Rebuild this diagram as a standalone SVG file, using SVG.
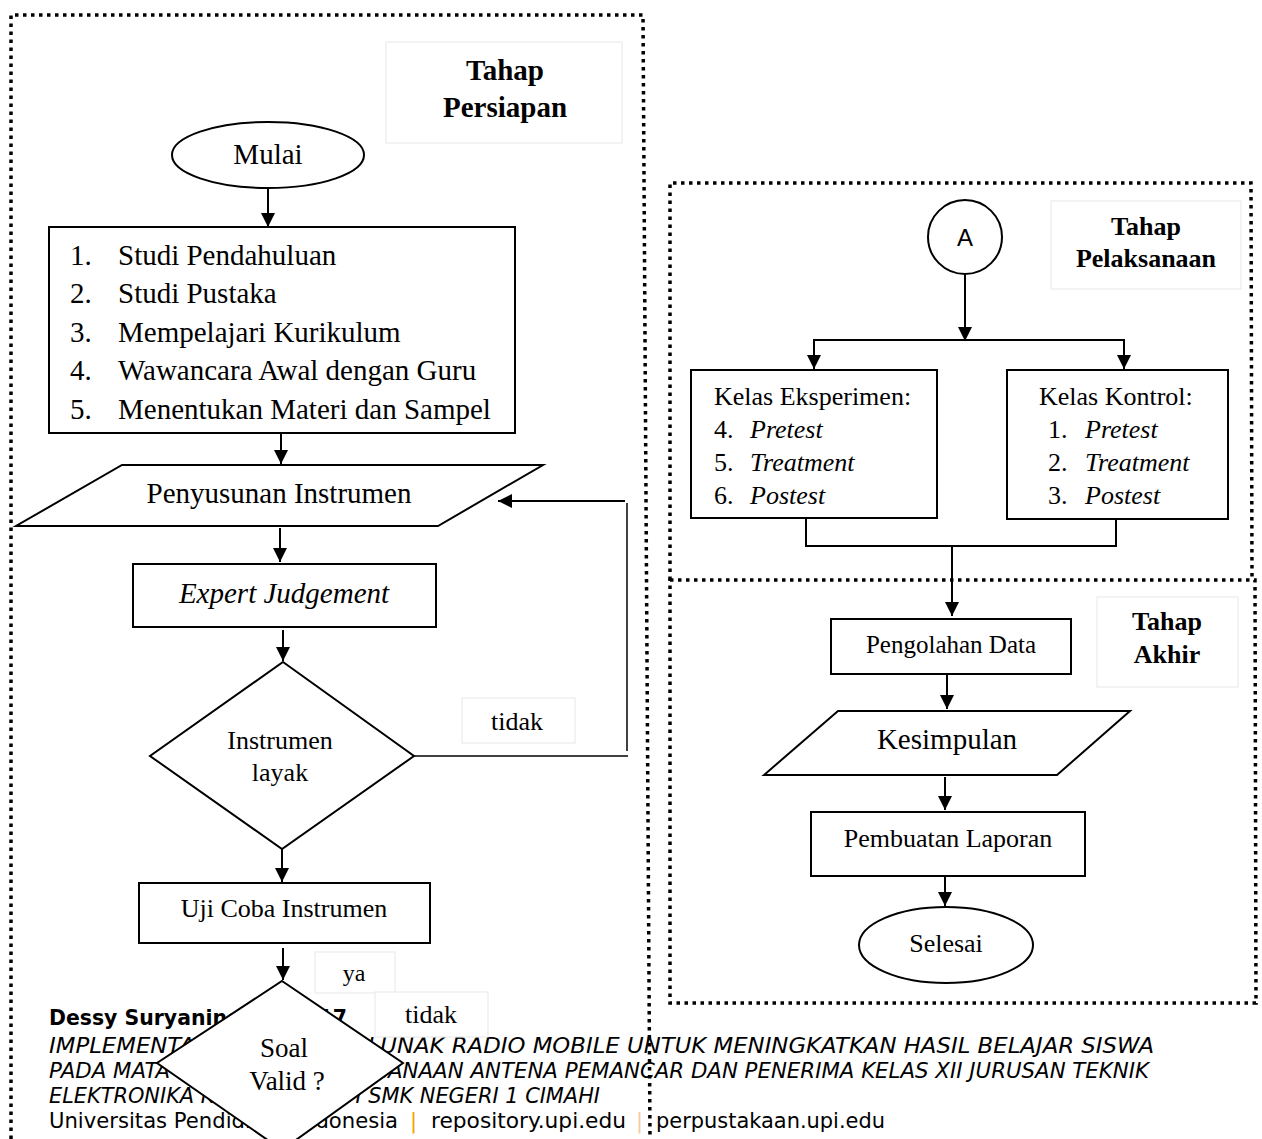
<svg xmlns="http://www.w3.org/2000/svg" width="1262" height="1139" viewBox="0 0 1262 1139">
<defs>
<marker id="ah" markerUnits="userSpaceOnUse" markerWidth="14" markerHeight="16" refX="14" refY="7" orient="auto">
<path d="M0,0 L14,7 L0,14 z" fill="#000"/>
</marker>
<style>
.dot{fill:none;stroke:#000;stroke-width:3.5;stroke-dasharray:3.5 4.5}
.box{fill:#fff;stroke:#000;stroke-width:2}
.lbl{fill:#fff;stroke:#ececec;stroke-width:1.2}
.t{font-family:"Liberation Serif","Times New Roman",serif;fill:#000}
.b{font-weight:bold}
.i{font-style:italic}
.c{text-anchor:middle}
.ln{fill:none;stroke:#000;stroke-width:2}
.thin{fill:none;stroke:#000;stroke-width:1.5}
.ft{font-family:"DejaVu Sans","Liberation Sans",sans-serif;font-size:21px;fill:#000}
</style>
</defs>
<rect width="1262" height="1139" fill="#fff"/>

<g id="panels">
<path class="dot" d="M11,1139 L11,15 L643,15 L650,1139"/>
<path class="dot" d="M670,580 L670,183 L1251,183 L1252,580"/>
<path class="dot" d="M670,580 L1255,580 L1256,1003 L670,1003 Z"/>
</g>

<g id="label-persiapan">
<rect class="lbl" x="386" y="42" width="236" height="101"/>
<text class="t b c" x="505" y="80" font-size="29">Tahap</text>
<text class="t b c" x="505" y="117" font-size="29">Persiapan</text>
</g>
<g id="label-pelaksanaan">
<rect class="lbl" x="1051" y="201" width="190" height="88"/>
<text class="t b c" x="1146" y="235" font-size="26">Tahap</text>
<text class="t b c" x="1146" y="267" font-size="26">Pelaksanaan</text>
</g>
<g id="label-akhir">
<rect class="lbl" x="1097" y="597" width="141" height="90"/>
<text class="t b c" x="1167" y="630" font-size="26">Tahap</text>
<text class="t b c" x="1167" y="663" font-size="26">Akhir</text>
</g>

<g id="connectors">
<line class="ln" x1="268" y1="188" x2="268" y2="227" marker-end="url(#ah)"/>
<line class="ln" x1="281" y1="434" x2="281" y2="464" marker-end="url(#ah)"/>
<line class="ln" x1="280" y1="528" x2="280" y2="562" marker-end="url(#ah)"/>
<line class="ln" x1="283" y1="630" x2="283" y2="661" marker-end="url(#ah)"/>
<line class="ln" x1="282" y1="849" x2="282" y2="882" marker-end="url(#ah)"/>
<line class="ln" x1="283" y1="948" x2="283" y2="980" marker-end="url(#ah)"/>
<polyline class="thin" points="414,756 628,756"/>
<polyline class="thin" points="627,751 627,503"/>
<line class="ln" x1="625" y1="501" x2="498" y2="501" marker-end="url(#ah)"/>
<line class="ln" x1="965" y1="275" x2="965" y2="341" marker-end="url(#ah)"/>
<polyline class="ln" points="814,370 814,340 1124,340 1124,370"/>
<line class="ln" x1="814" y1="340" x2="814" y2="369" marker-end="url(#ah)"/>
<line class="ln" x1="1124" y1="340" x2="1124" y2="369" marker-end="url(#ah)"/>
<polyline class="ln" points="806,518 806,546 1116,546 1116,519"/>
<line class="ln" x1="952" y1="546" x2="952" y2="616" marker-end="url(#ah)"/>
<line class="ln" x1="947" y1="674" x2="947" y2="709" marker-end="url(#ah)"/>
<line class="ln" x1="945" y1="777" x2="945" y2="810" marker-end="url(#ah)"/>
<line class="ln" x1="945" y1="876" x2="945" y2="906" marker-end="url(#ah)"/>
</g>

<g id="mulai">
<ellipse class="box" cx="268" cy="155" rx="96" ry="33"/>
<text class="t c" x="268" y="164" font-size="29">Mulai</text>
</g>

<g id="studi">
<rect class="box" x="49" y="227" width="466" height="206"/>
<g class="t" font-size="29">
<text x="70" y="265">1.</text><text x="118" y="265">Studi Pendahuluan</text>
<text x="70" y="303">2.</text><text x="118" y="303">Studi Pustaka</text>
<text x="70" y="342">3.</text><text x="118" y="342">Mempelajari Kurikulum</text>
<text x="70" y="380">4.</text><text x="118" y="380">Wawancara Awal dengan Guru</text>
<text x="70" y="419">5.</text><text x="118" y="419">Menentukan Materi dan Sampel</text>
</g>
</g>

<g id="penyusunan">
<polygon class="box" points="122,465 543,465 438,526 16,526"/>
<text class="t c" x="279" y="503" font-size="29">Penyusunan Instrumen</text>
</g>

<g id="expert">
<rect class="box" x="133" y="564" width="303" height="63"/>
<text class="t i c" x="284" y="603" font-size="29">Expert Judgement</text>
</g>

<g id="layak">
<polygon class="box" points="283,662 414,756 282,849 150,756"/>
<text class="t c" x="280" y="749" font-size="26">Instrumen</text>
<text class="t c" x="280" y="781" font-size="26">layak</text>
</g>

<g id="tidak1">
<rect class="lbl" x="462" y="698" width="113" height="45"/>
<text class="t c" x="517" y="730" font-size="26">tidak</text>
</g>

<g id="ujicoba">
<rect class="box" x="139" y="883" width="291" height="60"/>
<text class="t c" x="284" y="917" font-size="26">Uji Coba Instrumen</text>
</g>

<g id="a-connector">
<circle class="box" cx="965" cy="237" r="37"/>
<text x="965" y="246" font-family="Liberation Sans, Arial, sans-serif" font-size="24" text-anchor="middle">A</text>
</g>

<g id="eksperimen">
<rect class="box" x="691" y="370" width="246" height="148"/>
<g class="t" font-size="26">
<text x="714" y="405">Kelas Eksperimen:</text>
<text x="714" y="438">4.</text><text class="i" x="750" y="438">Pretest</text>
<text x="714" y="471">5.</text><text class="i" x="750" y="471">Treatment</text>
<text x="714" y="504">6.</text><text class="i" x="750" y="504">Postest</text>
</g>
</g>

<g id="kontrol">
<rect class="box" x="1007" y="370" width="221" height="149"/>
<g class="t" font-size="26">
<text x="1039" y="405">Kelas Kontrol:</text>
<text x="1048" y="438">1.</text><text class="i" x="1085" y="438">Pretest</text>
<text x="1048" y="471">2.</text><text class="i" x="1085" y="471">Treatment</text>
<text x="1048" y="504">3.</text><text class="i" x="1085" y="504">Postest</text>
</g>
</g>

<g id="pengolahan">
<rect class="box" x="831" y="619" width="240" height="55"/>
<text class="t c" x="951" y="653" font-size="25">Pengolahan Data</text>
</g>

<g id="kesimpulan">
<polygon class="box" points="838,711 1130,711 1057,775 764,775"/>
<text class="t c" x="947" y="749" font-size="29">Kesimpulan</text>
</g>

<g id="laporan">
<rect class="box" x="811" y="812" width="274" height="64"/>
<text class="t c" x="948" y="847" font-size="26">Pembuatan Laporan</text>
</g>

<g id="selesai">
<ellipse class="box" cx="946" cy="945" rx="87" ry="38"/>
<text class="t c" x="946" y="952" font-size="26">Selesai</text>
</g>

<g id="footer">
<text class="ft" x="49" y="1025" font-weight="bold" textLength="298" lengthAdjust="spacingAndGlyphs">Dessy Suryaningsih, 2017</text>
<text class="ft" x="49" y="1053" font-style="italic" textLength="1105" lengthAdjust="spacingAndGlyphs">IMPLEMENTASI PERANGKAT LUNAK RADIO MOBILE UNTUK MENINGKATKAN HASIL BELAJAR SISWA</text>
<text class="ft" x="49" y="1078" font-style="italic" textLength="1100" lengthAdjust="spacingAndGlyphs">PADA MATA PELAJARAN PERENCANAAN ANTENA PEMANCAR DAN PENERIMA KELAS XII JURUSAN TEKNIK</text>
<text class="ft" x="49" y="1103" font-style="italic" textLength="551" lengthAdjust="spacingAndGlyphs">ELEKTRONIKA KOMUNIKASI DI SMK NEGERI 1 CIMAHI</text>
<text class="ft" x="49" y="1128" textLength="349" lengthAdjust="spacingAndGlyphs">Universitas Pendidikan Indonesia</text>
<text class="ft" x="410" y="1128" style="fill:#f2a100">|</text>
<text class="ft" x="431" y="1128" textLength="195" lengthAdjust="spacingAndGlyphs">repository.upi.edu</text>
<text class="ft" x="636" y="1128" style="fill:#f7c9a3">|</text>
<text class="ft" x="656" y="1128" textLength="229" lengthAdjust="spacingAndGlyphs">perpustakaan.upi.edu</text>
</g>

<g id="ya">
<rect class="lbl" x="315" y="952" width="80" height="41"/>
<text class="t c" x="354" y="981" font-size="24">ya</text>
</g>
<g id="tidak2">
<rect class="lbl" x="375" y="992" width="113" height="45"/>
<text class="t c" x="431" y="1023" font-size="26">tidak</text>
</g>

<g id="soal-valid">
<polygon class="box" points="282,981 403,1063 282,1150 157,1063"/>
<text class="t c" x="284" y="1057" font-size="27">Soal</text>
<text class="t c" x="287" y="1090" font-size="27">Valid ?</text>
</g>
</svg>
